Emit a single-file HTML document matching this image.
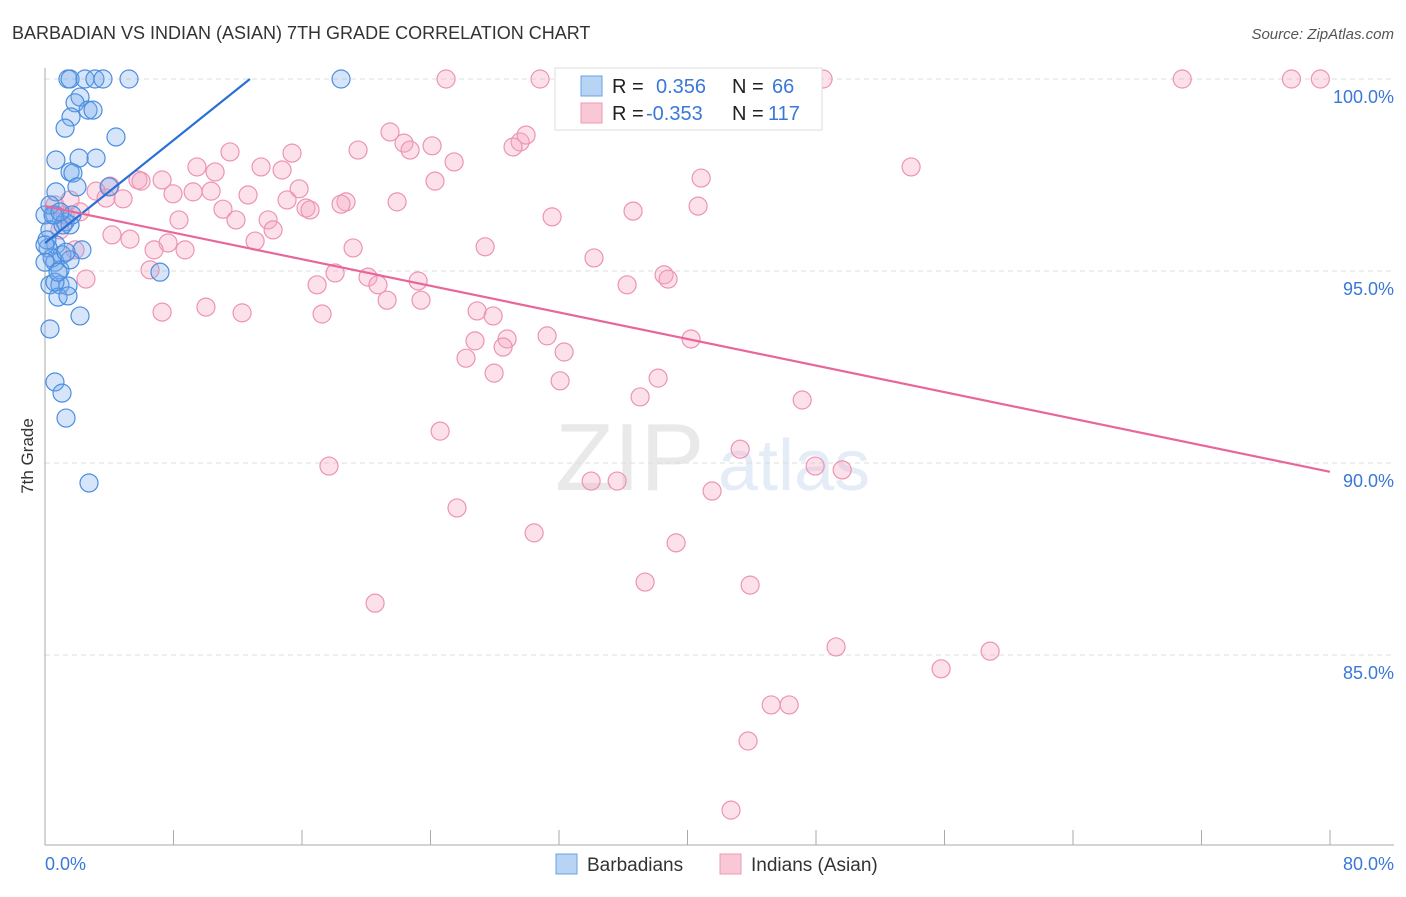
<!DOCTYPE html>
<html><head><meta charset="utf-8"><style>
body{margin:0;background:#fff;font-family:"Liberation Sans",sans-serif;}
svg text{font-family:"Liberation Sans",sans-serif;}
</style></head><body>
<svg id="chart" width="1406" height="892" xmlns="http://www.w3.org/2000/svg">
<text x="12" y="39" font-size="18" fill="#333">BARBADIAN VS INDIAN (ASIAN) 7TH GRADE CORRELATION CHART</text>
<text x="1394" y="39" font-size="15" fill="#555" text-anchor="end" font-style="italic">Source: ZipAtlas.com</text>
<text transform="translate(33,456) rotate(-90)" font-size="17" fill="#333" text-anchor="middle">7th Grade</text>
<g opacity="0.18">
<text x="555" y="490" font-size="96" font-family="Liberation Serif" fill="#888">ZIP</text>
<text x="718" y="490" font-size="72" fill="#6a9ad8">atlas</text>
</g>
<g id="grid"></g>
<g id="axes"></g>
<g id="pinkpts"></g>
<g id="bluepts"></g>
<g id="lines"></g>
<g>
<rect x="555" y="68" width="267" height="62" fill="#fff" stroke="#ddd"/>
<rect x="581" y="76" width="21" height="20" fill="#b8d4f5" stroke="#6aa0e6"/>
<rect x="581" y="103" width="21" height="20" fill="#f9c8d6" stroke="#ee9ab4"/>
<text x="612" y="93" font-size="20" fill="#222">R =</text>
<text x="656" y="93" font-size="20" fill="#3a78d8">0.356</text>
<text x="732" y="93" font-size="20" fill="#222">N =</text>
<text x="772" y="93" font-size="20" fill="#3a78d8">66</text>
<text x="612" y="120" font-size="20" fill="#222">R =</text>
<text x="646" y="120" font-size="20" fill="#3a78d8">-0.353</text>
<text x="732" y="120" font-size="20" fill="#222">N =</text>
<text x="768" y="120" font-size="20" fill="#3a78d8">117</text>
</g>
<g>
<rect x="556" y="854" width="21" height="20" fill="#b8d4f5" stroke="#6aa0e6"/>
<text x="587" y="871" font-size="19" fill="#333">Barbadians</text>
<rect x="720" y="854" width="21" height="20" fill="#f9c8d6" stroke="#ee9ab4"/>
<text x="751" y="871" font-size="19" fill="#333">Indians (Asian)</text>
</g>
</svg>
<script>
const yTicks=[100,95,90,85];
const xLabels=["0.0%","80.0%"];
const blueX=[1.43,1.56,2.49,3.11,3.61,5.23,18.43,2.18,1.87,2.68,2.99,1.62,1.25,4.42,3.18,2.12,0.68,1.56,1.74,0.68,1.99,3.99,0.62,0,0.31,1.25,1.56,0.68,0.19,2.3,1.06,0.62,0.93,7.16,1.56,0.31,0.93,1.43,0.81,1.43,2.18,0.31,0.62,1.06,1.31,2.74,0.12,0.44,1.12,0.62,0,0.81,1.31,0.31,0,0.5,1.68,0.93];
const blueY=[100,100,100,100,100,100,100,99.53,99.38,99.19,99.19,99.01,98.72,98.49,97.94,97.94,97.89,97.58,97.55,97.06,97.19,97.19,96.46,96.46,96.07,96.28,96.2,95.68,95.6,95.55,95.42,95.23,95.03,94.97,95.29,94.64,94.64,94.61,94.32,94.35,93.83,93.49,92.11,91.82,91.17,89.48,95.81,95.34,96.2,94.71,95.23,94.97,95.49,96.72,95.68,96.46,96.46,96.54];
const pinkX=[24.97,30.82,48.44,70.8,77.6,79.4,21.48,29.58,29.95,29.14,22.35,22.73,24.1,19.49,11.52,15.38,25.47,13.45,9.46,10.59,14.76,53.92,40.85,24.28,5.79,4.05,5.98,7.29,3.18,3.8,4.86,7.97,9.22,10.34,12.64,15.82,15.07,21.92,18.74,18.43,16.25,16.5,11.08,40.66,36.61,31.57,11.89,8.34,13.89,14.2,4.17,5.29,13.08,7.66,6.79,8.72,19.18,27.4,34.18,6.54,18.06,20.11,20.73,16.94,23.23,38.54,38.79,36.24,21.3,23.41,10.02,12.27,7.29,17.25,26.9,27.9,28.77,31.26,28.52,26.77,32.32,26.21,27.96,32.07,38.17,40.22,37.05,47.14,24.6,43.28,17.68,47.95,49.63,34,35.62,41.53,25.65,30.45,39.29,37.36,43.9,20.55,49.25,58.84,55.79,45.21,46.33,43.77,42.71,2.55,0.93,1.87,1.25,0.62,2.18,1.56];
const pinkY=[100,100,100,100,100,100,98.62,98.36,98.54,98.23,98.33,98.15,98.26,98.15,98.1,98.07,97.84,97.71,97.71,97.58,97.63,97.71,97.42,97.34,97.37,97.21,97.34,97.37,97.08,96.9,96.88,97.01,97.06,97.08,96.98,97.14,96.85,96.8,96.8,96.74,96.64,96.59,96.61,96.69,96.56,96.41,96.33,96.33,96.33,96.07,95.94,95.83,95.78,95.73,95.55,95.55,95.6,95.63,95.34,95.03,94.95,94.84,94.64,94.64,94.74,94.9,94.79,94.64,94.24,94.24,94.06,93.91,93.93,93.88,93.96,93.83,93.23,93.31,93.02,93.18,92.89,92.73,92.34,92.14,92.21,93.23,91.72,91.64,90.83,90.36,89.92,89.92,89.82,89.53,89.53,89.27,88.83,88.18,87.92,86.9,86.82,86.35,85.21,85.1,84.64,83.7,83.7,82.76,80.96,94.79,96.07,95.55,96.46,96.72,96.54,96.85];
const blueTrend=[[0,95.73],[12.76,100]];
const pinkTrend=[[0,96.69],[80,89.77]];
const NS="http://www.w3.org/2000/svg";
const X0=45,X1=1330,Y100=79,PXPER=38.4;
function sx(v){return X0+(v/80)*(X1-X0);}
function sy(v){return Y100+(100-v)*PXPER;}
function mk(tag,attrs,parent){const e=document.createElementNS(NS,tag);for(const k in attrs)e.setAttribute(k,attrs[k]);parent.appendChild(e);return e;}
const grid=document.getElementById('grid'),axes=document.getElementById('axes');
yTicks.forEach(t=>{
 const l=mk('line',{x1:X0,x2:1394,y1:sy(t),y2:sy(t),stroke:'#ddd','stroke-dasharray':'5,4'},grid);
 
 
 const tx=mk('text',{x:1394,y:sy(t)+24,'font-size':18,fill:'#3a78d8','text-anchor':'end'},axes);
 tx.textContent=t.toFixed(1)+'%';
 
 
});
mk('line',{x1:X0,x2:X0,y1:68,y2:845,stroke:'#aaa'},axes);
mk('line',{x1:X0,x2:1394,y1:845,y2:845,stroke:'#aaa'},axes);
for(let i=0;i<=10;i++){const x=sx(i*8);const t=mk('line',{x1:x,x2:x,y1:830,y2:845,stroke:'#aaa'},axes);
 
 }
const xl0=mk('text',{x:45,y:870,'font-size':18,fill:'#3a78d8'},axes);xl0.textContent=xLabels[0];


const xl1=mk('text',{x:1394,y:870,'font-size':18,fill:'#3a78d8','text-anchor':'end'},axes);xl1.textContent=xLabels[1];


const pg=document.getElementById('pinkpts');
pinkX.forEach((v,i)=>{const c=mk('circle',{cx:sx(v),cy:sy(pinkY[i]),r:9,fill:'rgba(246,170,196,0.35)',stroke:'#ec94b2','stroke-width':1.2},pg);
 
 });
const bg=document.getElementById('bluepts');
blueX.forEach((v,i)=>{const c=mk('circle',{cx:sx(v),cy:sy(blueY[i]),r:9,fill:'rgba(120,170,235,0.3)',stroke:'#4a8ee0','stroke-width':1.2},bg);
 
 });
const lg=document.getElementById('lines');
const bl=mk('line',{x1:sx(blueTrend[0][0]),y1:sy(blueTrend[0][1]),x2:sx(blueTrend[1][0]),y2:sy(blueTrend[1][1]),stroke:'#2a6fd6','stroke-width':2.2},lg);


const pl=mk('line',{x1:sx(pinkTrend[0][0]),y1:sy(pinkTrend[0][1]),x2:sx(pinkTrend[1][0]),y2:sy(pinkTrend[1][1]),stroke:'#e8679a','stroke-width':2.2},lg);


</script>
</body></html>
